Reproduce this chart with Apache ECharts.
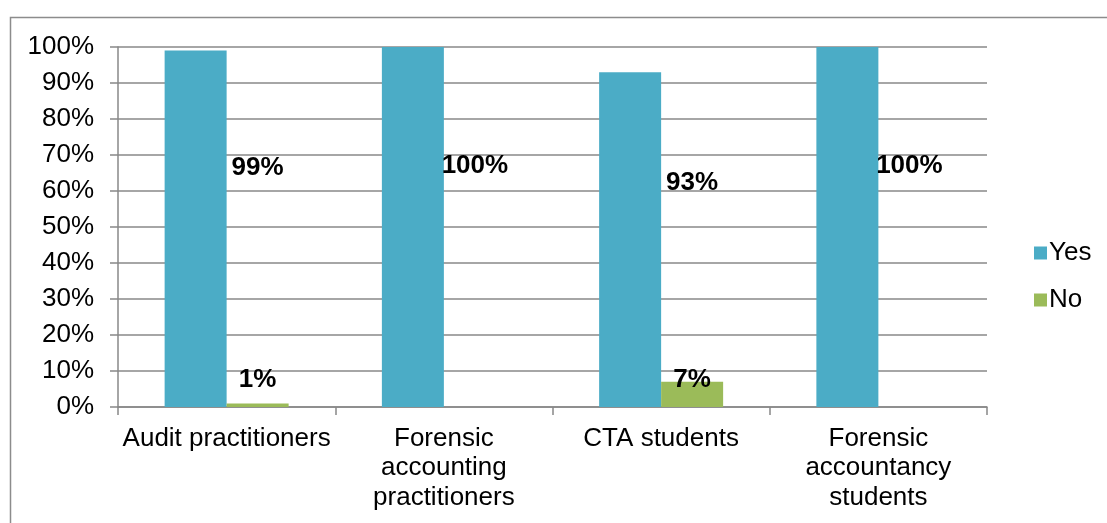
<!DOCTYPE html>
<html>
<head>
<meta charset="utf-8">
<style>
  html, body { margin: 0; padding: 0; background: #ffffff; }
  #chart { width: 1107px; height: 523px; }
</style>
<script src="https://cdn.jsdelivr.net/npm/echarts@6/dist/echarts.min.js"></script>
</head>
<body>
<div id="chart"></div>
<script>
// Respondent groups along the x axis
const categories = [
  'Audit practitioners',
  'Forensic\naccounting\npractitioners',
  'CTA students',
  'Forensic\naccountancy\nstudents'
];
// Share of answers per group, in percent
const yesValues = [99, 100, 93, 100];
const noValues = [1, 0, 7, 0];
const seriesNames = ['Yes', 'No'];

const FONT = '"Liberation Sans", Arial, Helvetica, sans-serif';
const AXIS_GREY = '#888888';
const FS = 26;

const chart = echarts.init(document.getElementById('chart'), null, { renderer: 'canvas' });

const pctLabel = (p) => (p.value ? p.value + '%' : '');

chart.setOption({
  animation: false,
  backgroundColor: '#ffffff',
  textStyle: { fontFamily: FONT },
  graphic: [{
    type: 'rect',
    shape: { x: 10.5, y: 17.5, width: 1200, height: 700 },
    style: { fill: 'none', stroke: '#8c8c8c', lineWidth: 1.5 },
    silent: true,
    z: -1
  }],
  grid: { left: 118, right: 120, top: 47, bottom: 116, containLabel: false },
  legend: {
    orient: 'vertical',
    left: 1029,
    top: 234,
    itemWidth: 13,
    itemHeight: 13,
    itemGap: 19,
    icon: 'rect',
    data: seriesNames,
    textStyle: { fontFamily: FONT, fontSize: FS, color: '#000000', lineHeight: 28, padding: [0, 0, 0, -3] }
  },
  xAxis: {
    type: 'category',
    data: categories,
    axisLine: { show: true, lineStyle: { color: AXIS_GREY, width: 1.5 } },
    axisTick: { show: true, length: 8, alignWithLabel: false, lineStyle: { color: AXIS_GREY, width: 1.5 } },
    axisLabel: {
      interval: 0,
      margin: 17,
      fontFamily: FONT,
      fontSize: FS,
      lineHeight: 29.5,
      color: '#000000'
    }
  },
  yAxis: {
    type: 'value',
    min: 0,
    max: 100,
    interval: 10,
    axisLine: { show: true, lineStyle: { color: AXIS_GREY, width: 1.5 } },
    axisTick: { show: true, length: 8, inside: false, lineStyle: { color: AXIS_GREY, width: 1.5 } },
    splitLine: { show: true, lineStyle: { color: AXIS_GREY, width: 1.5 } },
    axisLabel: {
      formatter: '{value}%',
      margin: 24,
      fontFamily: FONT,
      fontSize: FS,
      color: '#000000'
    }
  },
  series: [
    {
      name: seriesNames[0],
      type: 'bar',
      data: yesValues,
      barWidth: 62,
      barGap: '0%',
      itemStyle: { color: '#4BACC6' },
      label: {
        show: true,
        position: ['150%', '33%'],
        align: 'center',
        verticalAlign: 'middle',
        formatter: pctLabel,
        fontFamily: FONT,
        fontSize: FS,
        fontWeight: 'bold',
        color: '#000000'
      }
    },
    {
      name: seriesNames[1],
      type: 'bar',
      data: noValues,
      barWidth: 62,
      barGap: '0%',
      itemStyle: { color: '#9BBB59' },
      label: {
        show: true,
        position: 'insideBottom',
        distance: 14,
        formatter: pctLabel,
        fontFamily: FONT,
        fontSize: FS,
        fontWeight: 'bold',
        color: '#000000'
      }
    }
  ]
});
</script>
</body>
</html>
